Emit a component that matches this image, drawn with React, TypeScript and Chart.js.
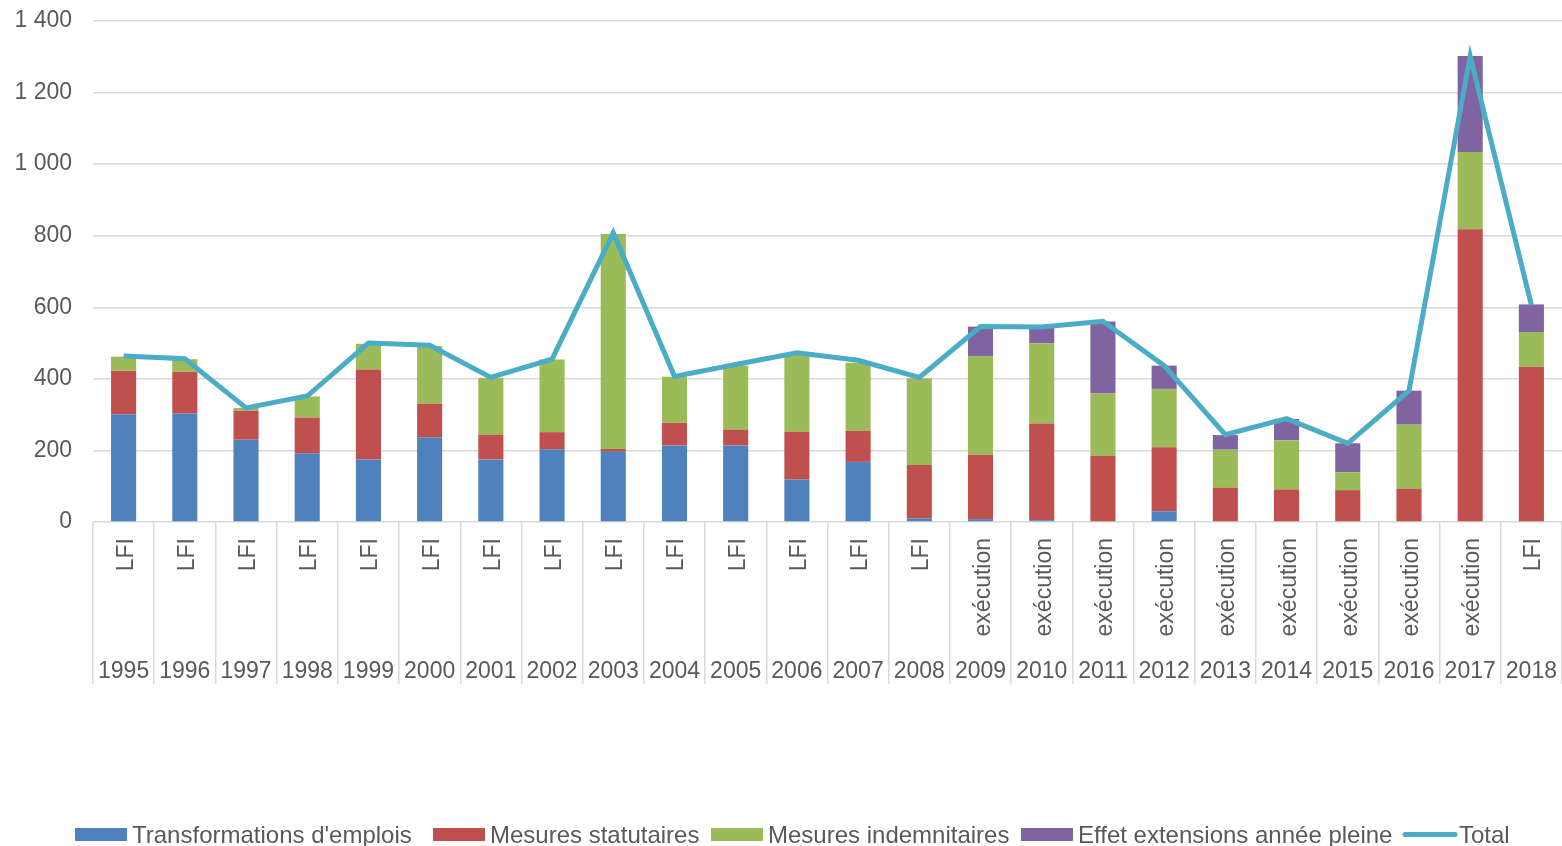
import React, { useEffect, useRef } from "react";
import { Chart, registerables } from "chart.js";

Chart.register(...registerables);

const years = ["1995","1996","1997","1998","1999","2000","2001","2002","2003","2004","2005","2006","2007","2008","2009","2010","2011","2012","2013","2014","2015","2016","2017","2018"];
const kinds = ["LFI","LFI","LFI","LFI","LFI","LFI","LFI","LFI","LFI","LFI","LFI","LFI","LFI","LFI","exécution","exécution","exécution","exécution","exécution","exécution","exécution","exécution","exécution","LFI"];

const transformations = [301,303,230,192,175,237,175,203,196,214,214,119,168,10,8,5,2,30,0,0,0,0,0,0];
const statutaires = [122,117,81,100,251,94,69,48,8,63,44,133,87,149,180,270,183,179,96,91,89,93,818,434];
const indemnitaires = [39,35,8,59,72,161,159,203,601,129,179,215,190,243,276,224,174,163,106,137,50,179,216,97];
const extensions = [0,0,0,0,0,0,0,0,0,0,0,0,0,0,82,45,201,65,41,60,81,95,268,77];
const total = [464,456,319,352,500,494,404,455,808,407,440,473,452,404,546,545,561,437,244,289,220,367,1302,606];

const yTicks = [0,200,400,600,800,1000,1200,1400];

const seriesNames = ["Transformations d'emplois","Mesures statutaires","Mesures indemnitaires","Effet extensions année pleine","Total"];
const seriesColors = ["#4F81BD","#C0504D","#9BBB59","#8064A2","#4BACC6"];

const FONT = "'Liberation Sans', Arial, sans-serif";
const TEXT_COLOR = "#595959";
const TARGET_TOP = 21;
const LEGEND_ITEM_X = [75, 433, 711, 1021, 1402];

const fmt = (v: number) => String(v).replace(/\B(?=(\d{3})+(?!\d))/g, " ");

const labelsPlugin = {
  id: "multiLevelLabels",
  afterDraw(chart: any) {
    const ctx = chart.ctx;
    const xs = chart.scales.x;
    const bottom = chart.chartArea.bottom;
    ctx.save();
    ctx.fillStyle = TEXT_COLOR;
    ctx.font = `23px ${FONT}`;
    for (let i = 0; i < years.length; i++) {
      const x = xs.getPixelForValue(i);
      ctx.save();
      ctx.translate(x + 9, bottom + 16);
      ctx.rotate(-Math.PI / 2);
      ctx.textAlign = "right";
      ctx.textBaseline = "alphabetic";
      ctx.fillText(kinds[i], 0, 0);
      ctx.restore();
      ctx.textAlign = "center";
      ctx.textBaseline = "alphabetic";
      ctx.fillText(years[i], x, bottom + 156);
    }
    ctx.restore();

    // legend
    ctx.save();
    ctx.font = `24px ${FONT}`;
    ctx.textAlign = "left";
    ctx.textBaseline = "alphabetic";
    const cy = 834.5;
    for (let i = 0; i < seriesNames.length; i++) {
      const lx = LEGEND_ITEM_X[i];
      if (i < 4) {
        ctx.fillStyle = seriesColors[i];
        ctx.fillRect(lx, cy - 6.5, 52, 13);
      } else {
        ctx.strokeStyle = seriesColors[i];
        ctx.lineWidth = 5;
        ctx.lineCap = "round";
        ctx.beginPath();
        ctx.moveTo(lx + 3, cy);
        ctx.lineTo(lx + 53, cy);
        ctx.stroke();
      }
      ctx.fillStyle = TEXT_COLOR;
      ctx.fillText(seriesNames[i], lx + 57, cy + 8);
    }
    ctx.restore();
  },
};

export default function App() {
  const ref = useRef<HTMLCanvasElement | null>(null);

  useEffect(() => {
    if (!ref.current) return;
    const barSets = [transformations, statutaires, indemnitaires, extensions];
    const datasets: any[] = barSets.map((d, i) => ({
      type: "bar",
      label: seriesNames[i],
      data: d,
      backgroundColor: seriesColors[i],
      borderWidth: 0,
      stack: "bars",
      order: 1,
      barPercentage: 0.41,
      categoryPercentage: 1,
    }));
    datasets.push({
      type: "line",
      label: seriesNames[4],
      data: total,
      borderColor: seriesColors[4],
      backgroundColor: seriesColors[4],
      borderWidth: 5,
      pointRadius: 0,
      tension: 0,
      stack: "total",
      order: 0,
    });

    const chart: any = new Chart(ref.current, {
      type: "bar",
      data: { labels: years, datasets },
      options: {
        animation: false,
        responsive: false,
        devicePixelRatio: 1,
        layout: { padding: { top: TARGET_TOP, right: 0, bottom: 0, left: 0 } },
        plugins: { legend: { display: false }, tooltip: { enabled: false } },
        scales: {
          x: {
            stacked: true,
            ticks: { display: false },
            grid: {
              offset: true,
              drawOnChartArea: false,
              drawTicks: true,
              tickLength: 162,
              color: "#D9D9D9",
              lineWidth: 1.5,
            },
            border: { display: false },
            afterFit: (s: any) => { s.height = 324; },
          },
          y: {
            stacked: true,
            min: 0,
            max: 1400,
            afterBuildTicks: (s: any) => { s.ticks = yTicks.map((v) => ({ value: v })); },
            ticks: {
              callback: (v: any) => fmt(Number(v)),
              color: TEXT_COLOR,
              font: { size: 23, family: FONT },
              padding: 21,
            },
            grid: { color: "#D9D9D9", lineWidth: 1.5, drawTicks: false },
            border: { display: false },
            afterFit: (s: any) => { s.width = 93; s.paddingTop = 0; s.paddingBottom = 0; },
          },
        },
      },
      plugins: [labelsPlugin],
    } as any);

    const diff = chart.chartArea.top - TARGET_TOP;
    if (Math.abs(diff) > 0.5) {
      chart.options.layout.padding = { top: TARGET_TOP - diff, right: 0, bottom: 0, left: 0 };
      chart.update();
    }
    return () => chart.destroy();
  }, []);

  return (
    <div style={{ position: "absolute", left: 0, top: 0, width: 1562, height: 846, background: "#fff" }}>
      <canvas ref={ref} width={1562} height={846} style={{ width: 1562, height: 846 }} />
    </div>
  );
}
